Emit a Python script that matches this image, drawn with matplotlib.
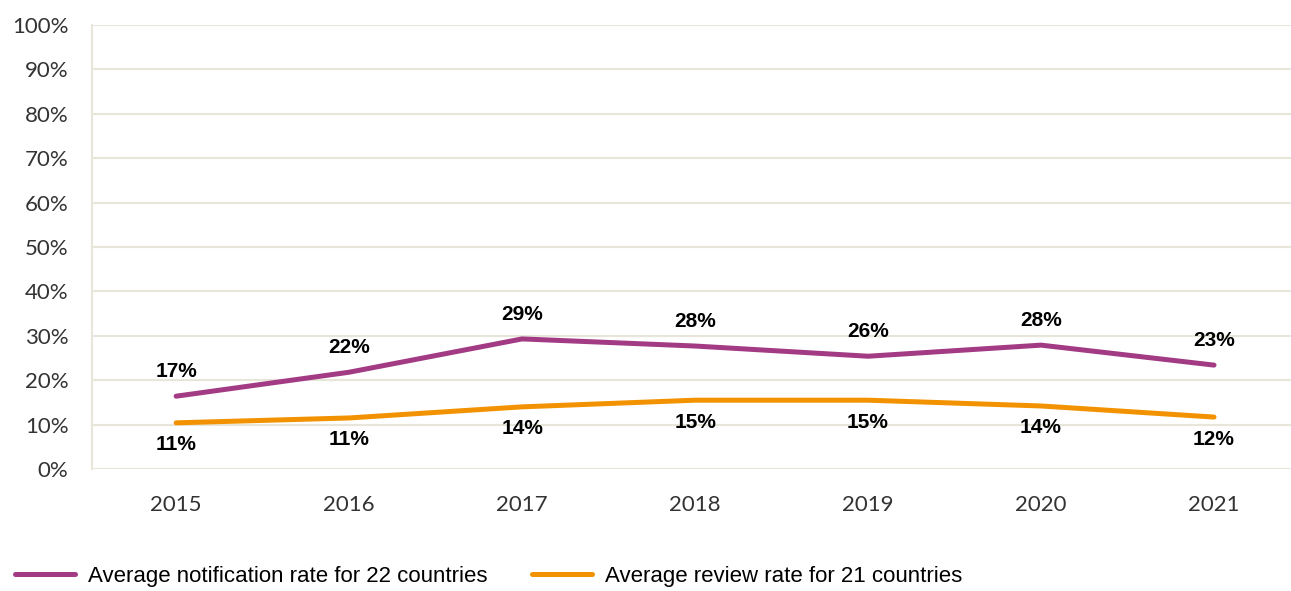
import matplotlib.pyplot as plt
from matplotlib.ticker import PercentFormatter

years = ['2015', '2016', '2017', '2018', '2019', '2020', '2021']
notificacion = [16.4, 21.8, 29.3, 27.7, 25.4, 27.9, 23.4]
revision = [10.4, 11.5, 14.0, 15.5, 15.5, 14.2, 11.7]
etiq_notif = ['17%', '22%', '29%', '28%', '26%', '28%', '23%']
etiq_rev = ['11%', '11%', '14%', '15%', '15%', '14%', '12%']

morado = '#a23b84'
naranja = '#f39200'
rejilla = '#e8e6d9'
narrow = ['Liberation Sans Narrow', 'Liberation Sans', 'DejaVu Sans']

fig = plt.figure(figsize=(12.91, 5.91), dpi=100)
ax = fig.add_axes([0.0713, 0.2064, 0.9287, 0.7513])

x = list(range(len(years)))
ax.plot(x, notificacion, color=morado, lw=3.6, solid_capstyle='round',
        label='Average notification rate for 22 countries')
ax.plot(x, revision, color=naranja, lw=3.6, solid_capstyle='round',
        label='Average review rate for 21 countries')

for i in x:
    ax.annotate(etiq_notif[i], (i, notificacion[i]), xytext=(0, 11), textcoords='offset points',
                ha='center', va='bottom', fontsize=15, fontweight='bold', family=narrow,
                fontstretch='condensed')
    ax.annotate(etiq_rev[i], (i, revision[i]), xytext=(0, -9), textcoords='offset points',
                ha='center', va='top', fontsize=15, fontweight='bold', family=narrow,
                fontstretch='condensed')

ax.set_ylim(0, 100)
ax.set_yticks(range(0, 101, 10))
ax.yaxis.set_major_formatter(PercentFormatter(decimals=0))
ax.set_xlim(-0.486, 6.445)
ax.set_xticks(x)
ax.set_xticklabels(years)
ax.grid(axis='y', color=rejilla, lw=1.5)
ax.set_axisbelow(True)
for s in ['top', 'right', 'bottom']:
    ax.spines[s].set_visible(False)
ax.spines['left'].set_color(rejilla)
ax.spines['left'].set_linewidth(1.5)
ax.tick_params(length=0, labelsize=16, labelcolor='#333333')
ax.tick_params(axis='y', pad=17)
ax.tick_params(axis='x', pad=19)
for t in ax.get_xticklabels() + ax.get_yticklabels():
    t.set_family(['Lato', 'DejaVu Sans'])
    t.set_fontweight('normal')

fig.legend(loc='lower left', bbox_to_anchor=(-0.004, -0.027), ncol=2, frameon=False,
           handlelength=2.7, handletextpad=0.6, columnspacing=2.0,
           prop={'family': narrow, 'size': 16, 'stretch': 'condensed'})

fig.savefig('out.png', dpi=100)
